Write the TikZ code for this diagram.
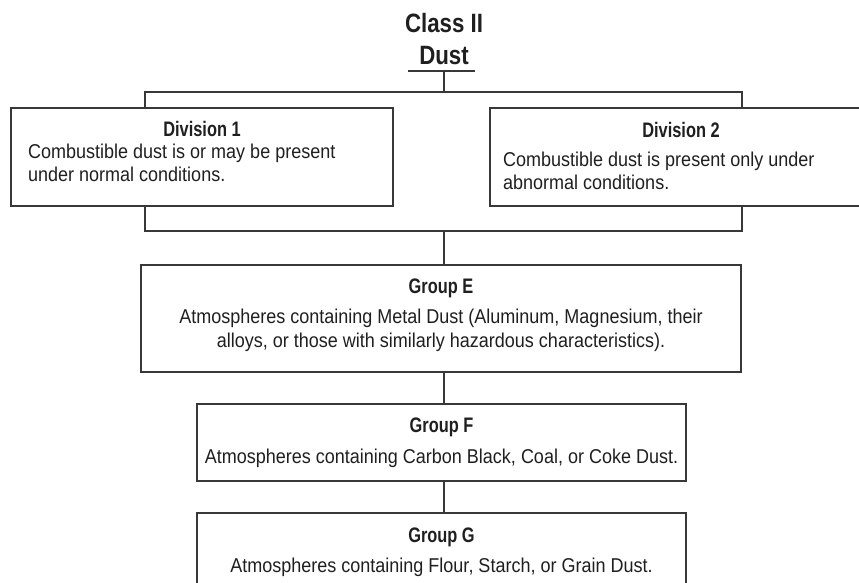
\documentclass[tikz,border=0pt]{standalone}
\usepackage{fontspec}
\setmainfont{Liberation Sans}
\newfontfamily\bodyfont{Liberation Sans}[FakeStretch=0.9]
\newfontfamily\hdfont{Liberation Sans}[FakeStretch=0.78]
\newfontfamily\bigfont{Liberation Sans}[FakeStretch=0.84]
\begin{document}
\begin{tikzpicture}[x=1pt,y=-1pt,
  ln/.style={line width=1.2pt, draw=black!78},
  boxnode/.style={ln, rectangle, inner sep=0pt},
  body/.style={font=\bodyfont\fontsize{20}{23}\selectfont, text=black!88, inner sep=0pt, anchor=base},
  hd/.style={font=\hdfont\bfseries\fontsize{21}{23}\selectfont, text=black!88, inner sep=0pt, anchor=base},
  big/.style={font=\bigfont\bfseries\fontsize{26.5}{30}\selectfont, text=black!88, inner sep=0pt, anchor=base}]
\useasboundingbox (0,0) rectangle (859,582);

% title
\node[big] (cls) at (444,32) {Class II};
\node[big] (dst) at (444,64) {Dust};
\coordinate (ula) at (408,71);
\coordinate (ulb) at (475,71);
\coordinate (top) at (444,71);
\draw[ln] (ula) -- (ulb);

% boxes
\node[boxnode, minimum width=382pt, minimum height=98pt] (d1) at (202,157) {};
\node[boxnode, minimum width=382pt, minimum height=98pt] (d2) at (681,157) {};
\node[boxnode, minimum width=600pt, minimum height=107pt] (e) at (441,318.5) {};
\node[boxnode, minimum width=489pt, minimum height=77pt] (f) at (441.5,442.5) {};
\node[boxnode, minimum width=489pt, minimum height=100pt] (g) at (441.5,563) {};

% connectors
\coordinate (bus) at (444,92);
\coordinate (l1) at (145,92);
\coordinate (r1) at (742,92);
\coordinate (l2) at (145,231);
\coordinate (r2) at (742,231);
\coordinate (m2) at (444,231);
\draw[ln] (top) -- (bus);
\draw[ln] (d1.north -| l1) -- (l1) -- (r1) -- (d2.north -| r1);
\draw[ln] (d1.south -| l2) -- (l2) -- (r2) -- (d2.south -| r2);
\draw[ln] (m2) -- (e.north -| m2);
\draw[ln] (e.south -| m2) -- (f.north -| m2);
\draw[ln] (f.south -| m2) -- (g.north -| m2);

% Division 1
\node[hd] (d1t) at (202,136) {Division 1};
\node[body, anchor=base west] (d1a) at (28,158) {Combustible dust is or may be present};
\node[body, anchor=base west] (d1b) at (28,181) {under normal conditions.};

% Division 2
\node[hd] (d2t) at (681,137) {Division 2};
\node[body, anchor=base west] (d2a) at (503,166) {Combustible dust is present only under};
\node[body, anchor=base west] (d2b) at (503,189) {abnormal conditions.};

% Group E
\node[hd] (et) at (441,293) {Group E};
\node[body] (ea) at (441,323) {Atmospheres containing Metal Dust (Aluminum, Magnesium, their};
\node[body] (eb) at (441,347) {alloys, or those with similarly hazardous characteristics).};

% Group F
\node[hd] (ft) at (441.5,432) {Group F};
\node[body] (fa) at (441.5,463) {Atmospheres containing Carbon Black, Coal, or Coke Dust.};

% Group G
\node[hd] (gt) at (441.5,542) {Group G};
\node[body] (ga) at (441.5,572) {Atmospheres containing Flour, Starch, or Grain Dust.};
\end{tikzpicture}
\end{document}
